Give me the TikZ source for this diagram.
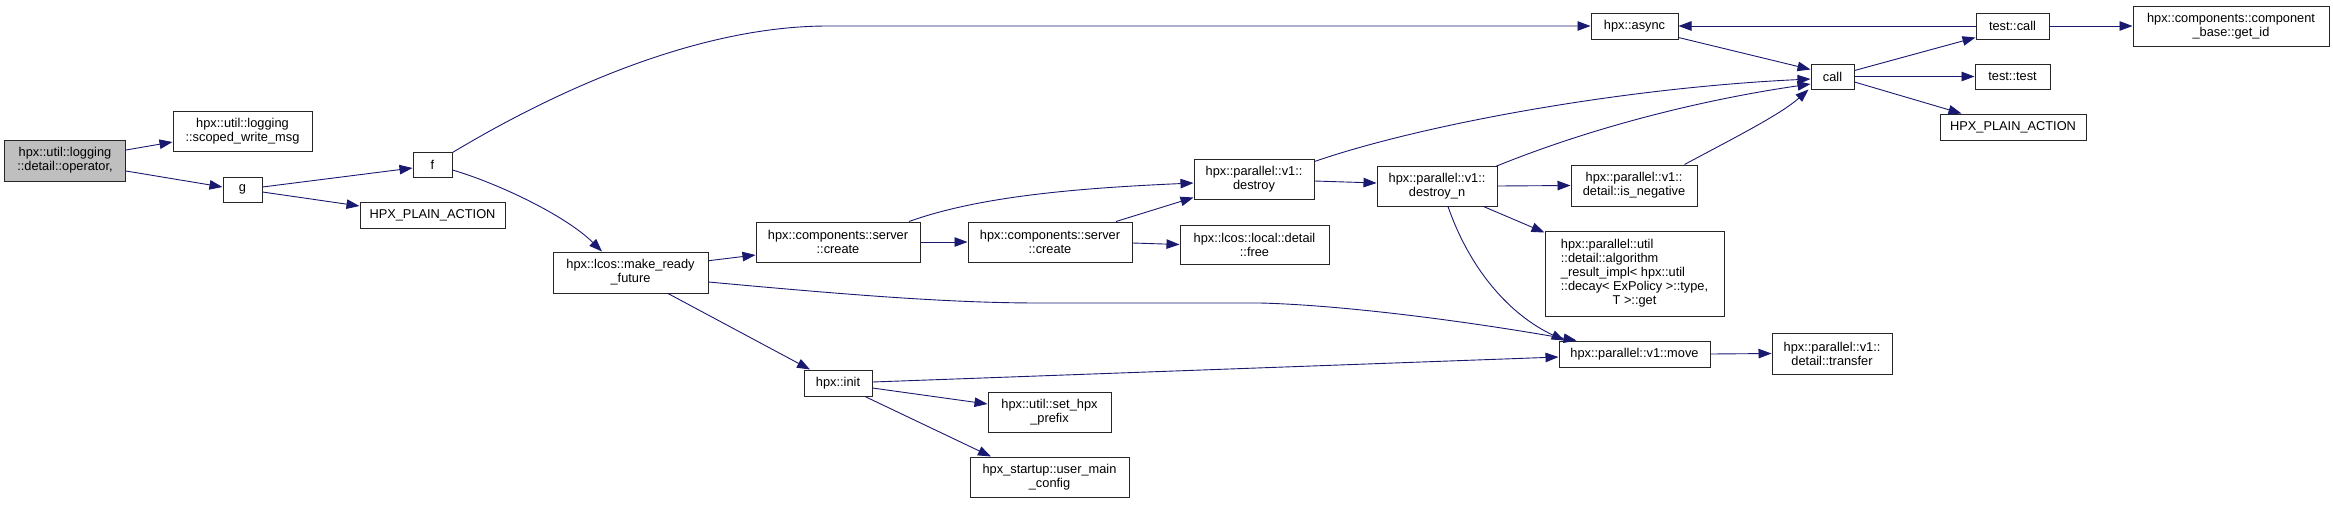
\documentclass[tikz,border=0pt]{standalone}
\usepackage{fontspec}
\setmainfont{Liberation Sans}
\usetikzlibrary{arrows.meta}
\definecolor{edgecol}{HTML}{191970}
\definecolor{rootfill}{HTML}{BFBFBF}
\begin{document}
\begin{tikzpicture}[x=1pt,y=-1pt,
  box/.style={draw=black!85, line width=1pt, fill=white, inner sep=0pt, align=center,
    font=\fontsize{12.8}{14}\selectfont},
  rootbox/.style={box, fill=rootfill},
  edge/.style={draw=edgecol, line width=0.9pt, -{Triangle[length=13pt,width=9.5pt]}, edgecol},
  sz/.style 2 args={minimum width=#1pt, minimum height=#2pt}
]
\useasboundingbox (0,0) rectangle (2333,504);

% nodes
\node[rootbox, sz={121}{41}] (root) at (65,160.5) {hpx::util::logging\\::detail::operator,};
\node[box, sz={139}{40}] (scoped) at (242.5,131) {hpx::util::logging\\::scoped\_write\_msg};
\node[box, sz={39}{25}] (g) at (242.5,189.5) {g};
\node[box, sz={39}{25}] (f) at (432.5,164.5) {f};
\node[box, sz={145}{26}] (hpa1) at (432.5,215) {HPX\_PLAIN\_ACTION};
\node[box, sz={155}{41}] (mrf) at (630.5,272.5) {hpx::lcos::make\_ready\\\_future};
\node[box, sz={164}{40}] (create1) at (838,242) {hpx::components::server\\::create};
\node[box, sz={68}{26}] (init) at (838,383) {hpx::init};
\node[box, sz={164}{40}] (create2) at (1050,242) {hpx::components::server\\::create};
\node[box, sz={123}{40}] (prefix) at (1049.5,412) {hpx::util::set\_hpx\\\_prefix};
\node[box, sz={159}{40}] (umc) at (1049.5,477) {hpx\_startup::user\_main\\\_config};
\node[box, sz={120}{40}] (destroy) at (1254,179) {hpx::parallel::v1::\\destroy};
\node[box, sz={149}{39}] (free) at (1254.5,244.5) {hpx::lcos::local::detail\\::free};
\node[box, sz={120}{40}] (destroyn) at (1437,186) {hpx::parallel::v1::\\destroy\_n};
\node[box, sz={87}{26}] (async) at (1634.5,26) {hpx::async};
\node[box, sz={126}{41}] (isneg) at (1634,185.5) {hpx::parallel::v1::\\detail::is\_negative};
\node[box, sz={179}{85}] (algo) at (1634.5,273.5) {\begin{tabular}{@{}l@{}}hpx::parallel::util\\::detail::algorithm\\\_result\_impl< hpx::util\\::decay< ExPolicy >::type,\\\multicolumn{1}{@{}c@{}}{T >::get}\end{tabular}};
\node[box, sz={151}{26}] (move) at (1634.5,354) {hpx::parallel::v1::move};
\node[box, sz={43}{25}] (call) at (1832.5,76.5) {call};
\node[box, sz={120}{41}] (transfer) at (1832,353.5) {hpx::parallel::v1::\\detail::transfer};
\node[box, sz={73}{26}] (tcall) at (2012.5,26) {test::call};
\node[box, sz={75}{25}] (ttest) at (2012.5,76.5) {test::test};
\node[box, sz={146}{26}] (hpa2) at (2013,127) {HPX\_PLAIN\_ACTION};
\node[box, sz={196}{40}] (getid) at (2231,26) {hpx::components::component\\\_base::get\_id};

% edges
\draw[edge] ([yshift=10.5pt]root.east) -- ([yshift=-11pt]scoped.west);
\draw[edge] ([yshift=-10.5pt]root.east) -- ([yshift=2.5pt]g.west);
\draw[edge] ([yshift=2.5pt]g.east) -- ([yshift=-3.5pt]f.west);
\draw[edge] ([yshift=-2.5pt]g.east) -- ([yshift=9pt]hpa1.west);
\draw[edge] ([yshift=-1pt]f.north east) .. controls (560,88) and (700,26) .. (828,26) -- (async.west);
\draw[edge] ([yshift=-5.5pt]f.east) .. controls (497,183) and (565,215) .. ([xshift=-28.5pt]mrf.north);
\draw[edge] ([yshift=11.8pt]mrf.east) -- ([yshift=-13pt]create1.west);
\draw[edge] ([yshift=-9.5pt]mrf.east) .. controls (850,295) and (950,303) .. (1040,303) -- (1260,303) .. controls (1340,305) and (1460,320) .. ([xshift=-58pt]move.north);
\draw[edge] ([xshift=37.5pt]mrf.south) -- ([xshift=-28pt]init.north);
\draw[edge] ([xshift=71pt]create1.north) .. controls (980,196) and (1080,188) .. ([yshift=-4pt]destroy.west);
\draw[edge] (create1.east) -- (create2.west);
\draw[edge] ([xshift=66pt]create2.north) -- ([yshift=2pt]destroy.south west);
\draw[edge] ([yshift=-1pt]create2.east) -- (free.west);
\draw[edge] ([yshift=-2pt]destroy.east) -- ([yshift=3pt]destroyn.west);
\draw[edge] ([yshift=-3pt]destroy.north east) .. controls (1420,125) and (1620,88) .. ([yshift=-2.5pt]call.west);
\draw[edge] ([xshift=-2pt,yshift=-1pt]destroyn.north east) .. controls (1590,128) and (1700,100) .. ([yshift=-7.5pt]call.west);
\draw[edge] (destroyn.east) -- (isneg.west);
\draw[edge] ([xshift=-14pt]destroyn.south east) -- ([yshift=-2pt]algo.north west);
\draw[edge] ([xshift=11pt]destroyn.south) .. controls (1470,270) and (1510,315) .. ([xshift=-70pt]move.north);
\draw[edge] ([xshift=-13pt]isneg.north east) .. controls (1730,140) and (1780,115) .. ([xshift=-24pt]call.south);
\draw[edge] ([yshift=2pt]async.south east) -- ([yshift=-6pt]call.north west);
\draw[edge] (tcall.west) -- (async.east);
\draw[edge] ([yshift=-7pt]call.north east) -- ([yshift=2pt]tcall.south west);
\draw[edge] (call.east) -- (ttest.west);
\draw[edge] ([yshift=-5.5pt]call.east) -- ([xshift=22pt]hpa2.north west);
\draw[edge] (tcall.east) -- (getid.west);
\draw[edge] ([yshift=1pt]init.east) -- ([yshift=-3pt]move.west);
\draw[edge] ([yshift=-5pt]init.east) -- ([yshift=8pt]prefix.west);
\draw[edge] ([xshift=27pt]init.south) -- ([xshift=-58.5pt]umc.north);
\draw[edge] (move.east) -- (transfer.west);
\end{tikzpicture}
\end{document}
